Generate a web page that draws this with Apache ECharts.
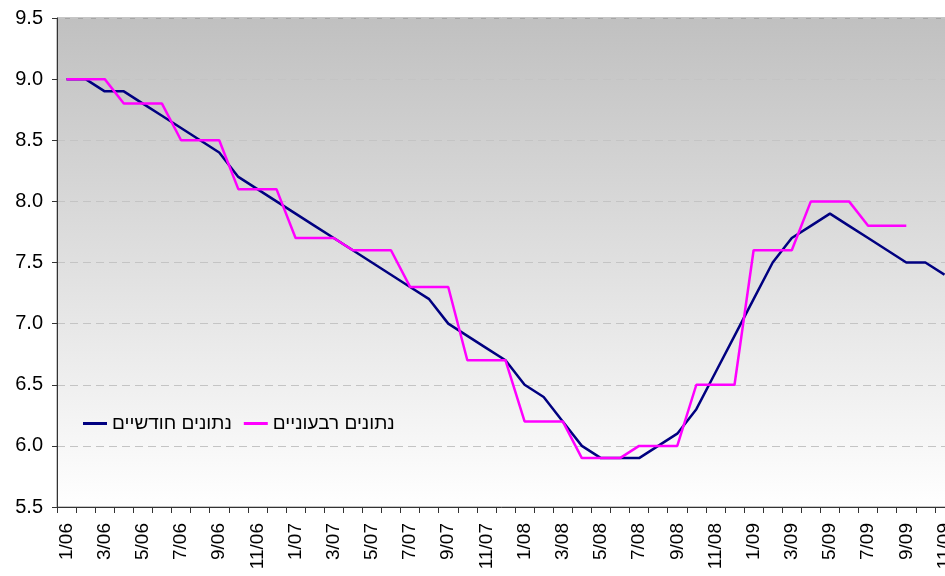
<!DOCTYPE html>
<html>
<head>
<meta charset="utf-8" />
<script src="https://cdn.jsdelivr.net/npm/echarts@6/dist/echarts.min.js"></script>
<style>
  html, body { margin: 0; padding: 0; background: #fff; }
  #main { width: 945px; height: 576px; }
</style>
</head>
<body>
<div id="main"></div>
<script type="text/javascript">
// months 1/06 .. 11/09
var months = [
  '1/06','2/06','3/06','4/06','5/06','6/06','7/06','8/06','9/06','10/06','11/06','12/06',
  '1/07','2/07','3/07','4/07','5/07','6/07','7/07','8/07','9/07','10/07','11/07','12/07',
  '1/08','2/08','3/08','4/08','5/08','6/08','7/08','8/08','9/08','10/08','11/08','12/08',
  '1/09','2/09','3/09','4/09','5/09','6/09','7/09','8/09','9/09','10/09','11/09'
];

// נתונים חודשיים
var monthly = [
  9.0, 9.0, 8.9, 8.9, 8.8, 8.7, 8.6, 8.5, 8.4, 8.2, 8.1, 8.0,
  7.9, 7.8, 7.7, 7.6, 7.5, 7.4, 7.3, 7.2, 7.0, 6.9, 6.8, 6.7,
  6.5, 6.4, 6.2, 6.0, 5.9, 5.9, 5.9, 6.0, 6.1, 6.3, 6.6, 6.9,
  7.2, 7.5, 7.7, 7.8, 7.9, 7.8, 7.7, 7.6, 7.5, 7.5, 7.4
];

// נתונים רבעוניים
var quarterly = [
  9.0, 9.0, 9.0, 8.8, 8.8, 8.8, 8.5, 8.5, 8.5, 8.1, 8.1, 8.1,
  7.7, 7.7, 7.7, 7.6, 7.6, 7.6, 7.3, 7.3, 7.3, 6.7, 6.7, 6.7,
  6.2, 6.2, 6.2, 5.9, 5.9, 5.9, 6.0, 6.0, 6.0, 6.5, 6.5, 6.5,
  7.6, 7.6, 7.6, 8.0, 8.0, 8.0, 7.8, 7.8, 7.8, null, null
];

var yTicks = [5.5, 9.5, 0.5]; // min, max, step

var myChart = echarts.init(document.getElementById('main'));

var option = {
  animation: false,
  textStyle: { fontFamily: 'Liberation Sans, Arial, sans-serif' },
  grid: {
    left: 57, top: 18, width: 897, height: 489,
    outerBoundsMode: 'none',
    containLabel: false,
    show: true,
    borderColor: '#8c8c8c',
    borderWidth: 1,
    backgroundColor: new echarts.graphic.LinearGradient(0, 0, 0, 1, [
      { offset: 0, color: '#c0c0c0' },
      { offset: 1, color: '#ffffff' }
    ])
  },
  legend: {
    left: 78, top: 409,
    itemWidth: 24, itemHeight: 14, itemGap: 12,
    icon: 'path://M0,5.5 L24,5.5 L24,8.5 L0,8.5 Z',
    textStyle: { fontSize: 19, color: '#000', fontFamily: 'Liberation Sans, Arial, sans-serif' },
    data: ['נתונים חודשיים', 'נתונים רבעוניים']
  },
  xAxis: {
    type: 'category',
    data: months,
    boundaryGap: true,
    axisLine: { lineStyle: { color: '#333', width: 1 } },
    axisTick: { show: true, interval: 0, length: 6, lineStyle: { color: '#333' } },
    axisLabel: { interval: 1, rotate: 90, fontSize: 19, color: '#000', margin: 16 },
    splitLine: { show: false }
  },
  yAxis: {
    type: 'value',
    min: yTicks[0], max: yTicks[1], interval: yTicks[2],
    axisLine: { show: true, lineStyle: { color: '#333', width: 1 } },
    axisTick: { show: true, length: 5, lineStyle: { color: '#333' } },
    axisLabel: {
      fontSize: 20, color: '#000', margin: 14,
      formatter: function (v) { return v.toFixed(1); }
    },
    splitLine: { show: true, lineStyle: { color: '#c4c4c4', type: [8, 5], width: 1 } }
  },
  series: [
    {
      name: 'נתונים חודשיים',
      type: 'line',
      data: monthly,
      symbol: 'none',
      lineStyle: { color: '#000080', width: 2.5 },
      itemStyle: { color: '#000080' }
    },
    {
      name: 'נתונים רבעוניים',
      type: 'line',
      data: quarterly,
      symbol: 'none',
      connectNulls: false,
      lineStyle: { color: '#ff00ff', width: 2.5 },
      itemStyle: { color: '#ff00ff' }
    }
  ]
};

myChart.setOption(option);
</script>
</body>
</html>
